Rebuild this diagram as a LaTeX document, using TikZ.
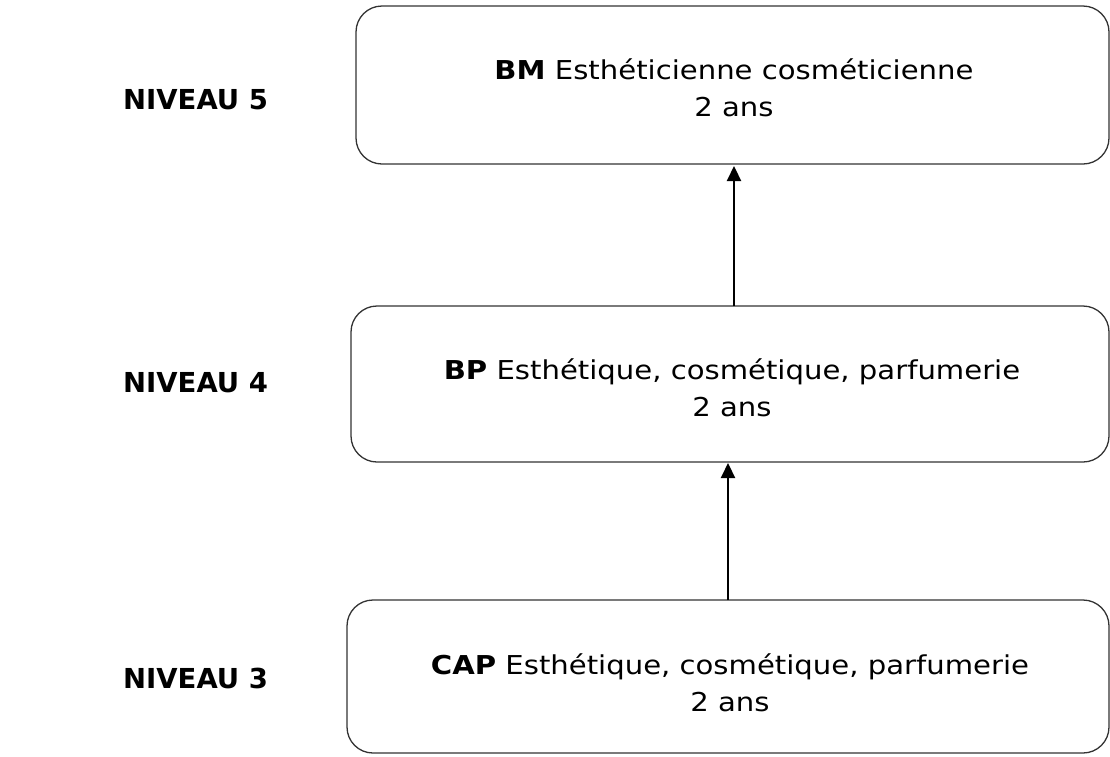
\documentclass[tikz,border=0pt]{standalone}
\usepackage{fontspec}
\setmainfont{DejaVu Sans}
\newfontfamily\widefont[FakeStretch=1.12]{DejaVu Sans}
\usetikzlibrary{arrows.meta}
\begin{document}
\begin{tikzpicture}[x=1pt,y=-1pt,
  box/.style={draw=black!80,line width=1.3pt,rounded corners=26pt},
  lvl/.style={anchor=west,font=\fontsize{27.5}{30}\selectfont\bfseries,inner sep=0pt},
  txt/.style={align=center,font=\widefont\fontsize{26}{37}\selectfont,inner sep=0pt},
  arr/.style={-{Triangle[length=15pt,width=14pt]},line width=2.2pt,black}]
\useasboundingbox (0,0) rectangle (1110,756);
\draw[box] (356,6) rectangle (1109,164);
\draw[box] (351,306) rectangle (1109,462);
\draw[box] (347,600) rectangle (1109,753);
\coordinate (t1) at (734,166);
\coordinate (b1) at (734,306);
\coordinate (t2) at (728,463);
\coordinate (b2) at (728,600);
\node[txt] (bm) at (734,88) {\textbf{BM} Esthéticienne cosméticienne\\2 ans};
\node[txt] (bp) at (732,388) {\textbf{BP} Esthétique, cosmétique, parfumerie\\2 ans};
\node[txt] (cap) at (730,683) {\textbf{CAP} Esthétique, cosmétique, parfumerie\\2 ans};
\node[lvl] (n5) at (123,100) {NIVEAU 5};
\node[lvl] (n4) at (123,383) {NIVEAU 4};
\node[lvl] (n3) at (123,678) {NIVEAU 3};
\draw[arr] (b1) -- (t1);
\draw[arr] (b2) -- (t2);
\end{tikzpicture}
\end{document}
